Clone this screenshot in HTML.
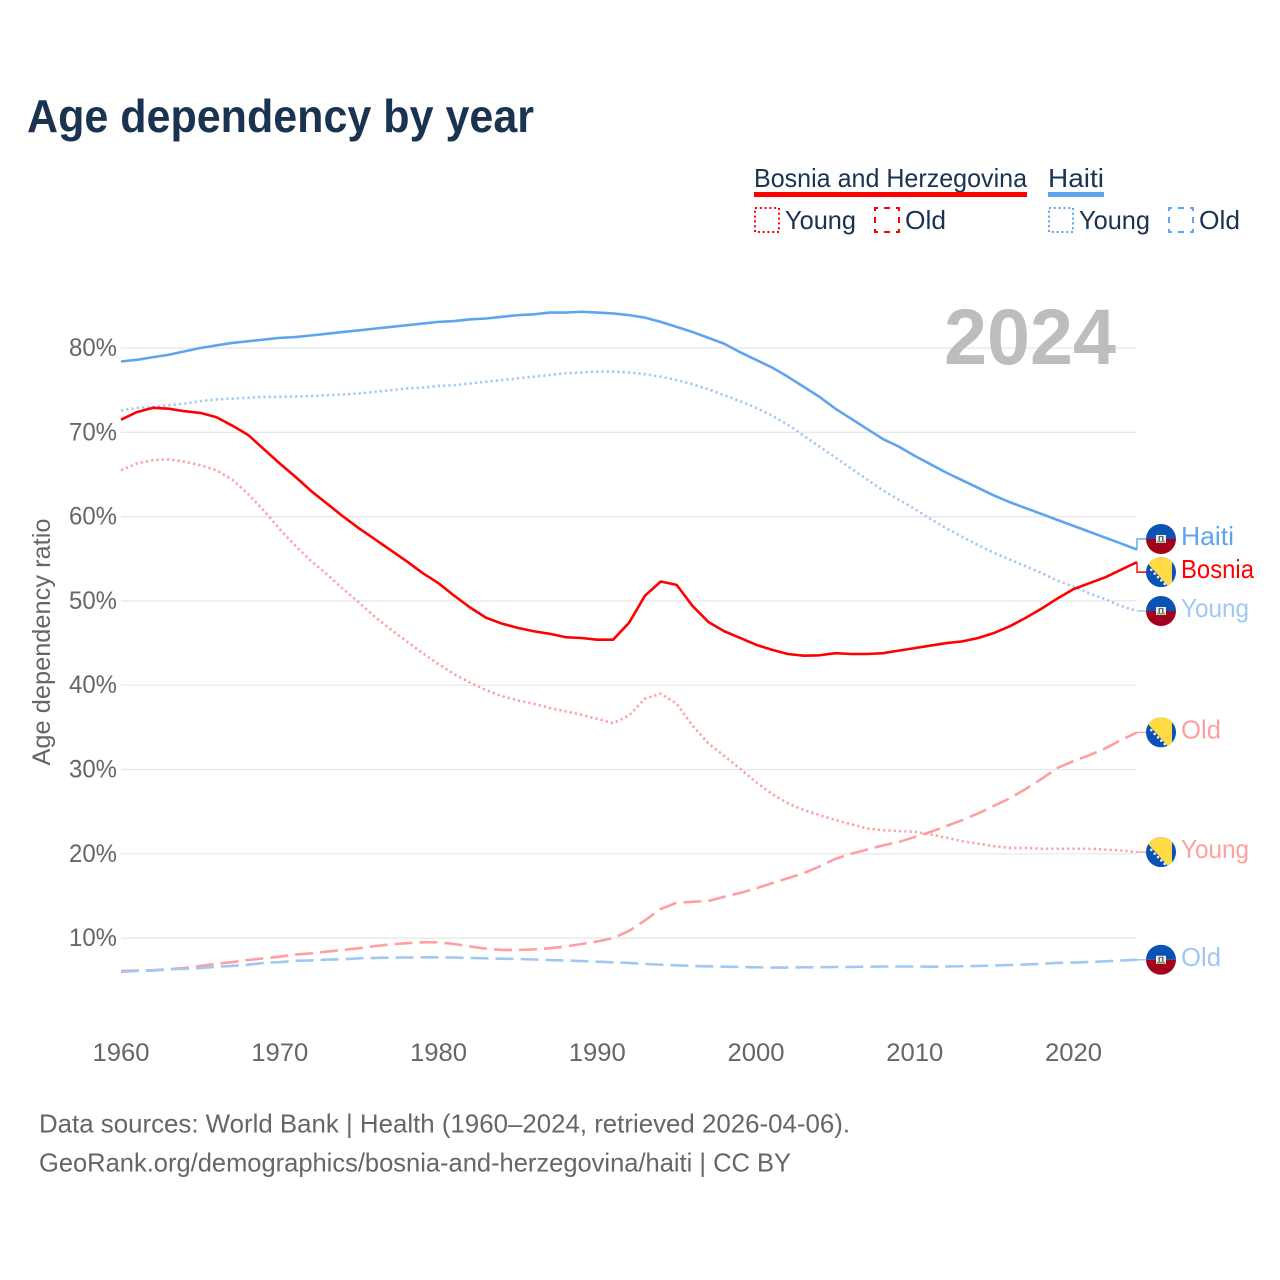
<!DOCTYPE html>
<html lang="en">
<head>
<meta charset="utf-8">
<title>Age dependency by year</title>
<style>
html,body{margin:0;padding:0;background:#fff;width:1280px;height:1280px;overflow:hidden}
svg{display:block}
text{font-family:"Liberation Sans",sans-serif}
</style>
</head>
<body>
<svg id="chart" xmlns="http://www.w3.org/2000/svg" width="1280" height="1280" viewBox="0 0 1280 1280">
<defs>
<clipPath id="flag-clip"><circle cx="0" cy="0" r="15"/></clipPath>
<g id="flag-haiti" clip-path="url(#flag-clip)">
<rect x="-15" y="-15" width="30" height="15" fill="#0a52b4"/>
<rect x="-15" y="0" width="30" height="15" fill="#a2001d"/>
<rect x="-5" y="-4" width="10" height="8" fill="#f0f0f0"/>
<rect x="-2.5" y="-3" width="5" height="5" fill="#5a6a70"/>
<rect x="-1" y="-2" width="2" height="4" fill="#f0f0f0"/>
<rect x="-4" y="2" width="8" height="1.4" fill="#6da544"/>
</g>
<g id="flag-bosnia" clip-path="url(#flag-clip)">
<rect x="-15" y="-15" width="30" height="30" fill="#0a52b4"/>
<polygon points="-14,-9.5 -9,-15 11,-15 11,18.5" fill="#ffda44"/>
<g fill="#f0f0f0">
<circle cx="-9.7" cy="-2.3" r="1.3"/>
<circle cx="-6.3" cy="1.5" r="1.3"/>
<circle cx="-3" cy="5" r="1.3"/>
<circle cx="0.3" cy="8.3" r="1.3"/>
<circle cx="3.7" cy="11.7" r="1.3"/>
</g>
</g>
</defs>

<rect x="0" y="0" width="1280" height="1280" fill="#fff"/>

<text x="27" y="132" font-size="46" font-weight="700" fill="#1a3350" textLength="507" lengthAdjust="spacingAndGlyphs">Age dependency by year</text>

<g>
<text x="754" y="187" font-size="26" fill="#1a3350" textLength="273" lengthAdjust="spacingAndGlyphs">Bosnia and Herzegovina</text>
<rect x="754" y="192" width="273" height="5" fill="#ff0000"/>
<text x="1048" y="187" font-size="26" fill="#1a3350" textLength="56" lengthAdjust="spacingAndGlyphs">Haiti</text>
<rect x="1048" y="192" width="56" height="5" fill="#5fa5ee"/>

<rect x="755" y="208" width="24" height="24" fill="none" stroke="#ff0000" stroke-width="2" stroke-dasharray="2 2.8"/>
<text x="785" y="229" font-size="26" fill="#1a3350" textLength="71" lengthAdjust="spacingAndGlyphs">Young</text>
<rect x="875" y="208" width="24" height="24" fill="none" stroke="#ff0000" stroke-width="2" stroke-dasharray="6 6" stroke-dashoffset="3"/>
<text x="905" y="229" font-size="26" fill="#1a3350" textLength="41" lengthAdjust="spacingAndGlyphs">Old</text>

<rect x="1049" y="208" width="24" height="24" fill="none" stroke="#5fa5ee" stroke-width="2" stroke-dasharray="2 2.8"/>
<text x="1079" y="229" font-size="26" fill="#1a3350" textLength="71" lengthAdjust="spacingAndGlyphs">Young</text>
<rect x="1169" y="208" width="24" height="24" fill="none" stroke="#5fa5ee" stroke-width="2" stroke-dasharray="6 6" stroke-dashoffset="3"/>
<text x="1199" y="229" font-size="26" fill="#1a3350" textLength="41" lengthAdjust="spacingAndGlyphs">Old</text>
</g>

<g id="grid"></g>
<text x="944" y="364" font-size="79" font-weight="700" fill="#bdbdbd" textLength="172" lengthAdjust="spacingAndGlyphs">2024</text>
<g id="yticks"></g>
<g id="xticks"></g>
<text transform="translate(50,642) rotate(-90)" text-anchor="middle" font-size="25" fill="#666666" textLength="247" lengthAdjust="spacingAndGlyphs">Age dependency ratio</text>
<g id="series"></g>
<g id="labels"></g>

<text x="39" y="1132.5" font-size="26" fill="#666666" textLength="811" lengthAdjust="spacingAndGlyphs">Data sources: World Bank | Health (1960–2024, retrieved 2026-04-06).</text>
<text x="39" y="1171.5" font-size="26" fill="#666666" textLength="752" lengthAdjust="spacingAndGlyphs">GeoRank.org/demographics/bosnia-and-herzegovina/haiti | CC BY</text>
</svg>

<script>
const years = [1960,1961,1962,1963,1964,1965,1966,1967,1968,1969,1970,1971,1972,1973,1974,1975,1976,1977,1978,1979,1980,1981,1982,1983,1984,1985,1986,1987,1988,1989,1990,1991,1992,1993,1994,1995,1996,1997,1998,1999,2000,2001,2002,2003,2004,2005,2006,2007,2008,2009,2010,2011,2012,2013,2014,2015,2016,2017,2018,2019,2020,2021,2022,2023,2024];
const xTickLabels = [1960,1970,1980,1990,2000,2010,2020];
const yTickLabels = [10,20,30,40,50,60,70,80];

const bosniaTotal = [71.5,72.4,72.9,72.8,72.5,72.3,71.8,70.8,69.7,68.0,66.3,64.7,63.0,61.5,60.0,58.6,57.3,56.0,54.7,53.3,52.1,50.6,49.2,48.0,47.3,46.8,46.4,46.1,45.7,45.6,45.4,45.4,47.4,50.6,52.3,51.9,49.4,47.5,46.4,45.6,44.8,44.2,43.7,43.5,43.55,43.8,43.7,43.7,43.8,44.1,44.4,44.7,45.0,45.2,45.6,46.2,47.0,48.0,49.1,50.3,51.4,52.1,52.8,53.7,54.6];
const haitiTotal = [78.4,78.6,78.9,79.2,79.6,80.0,80.3,80.6,80.8,81.0,81.2,81.3,81.5,81.7,81.9,82.1,82.3,82.5,82.7,82.9,83.1,83.2,83.4,83.5,83.7,83.9,84.0,84.2,84.2,84.3,84.2,84.1,83.9,83.6,83.1,82.5,81.9,81.2,80.5,79.5,78.6,77.7,76.6,75.4,74.2,72.8,71.6,70.4,69.2,68.3,67.2,66.2,65.2,64.3,63.4,62.5,61.7,61.0,60.3,59.6,58.9,58.2,57.5,56.8,56.1];
const haitiYoung = [72.6,72.9,73.0,73.2,73.4,73.7,73.9,74.0,74.1,74.2,74.2,74.25,74.3,74.4,74.5,74.6,74.8,75.0,75.2,75.3,75.5,75.6,75.8,76.0,76.2,76.4,76.6,76.8,77.0,77.1,77.2,77.2,77.1,76.9,76.6,76.2,75.7,75.1,74.4,73.7,72.9,72.0,70.9,69.6,68.3,67.0,65.7,64.4,63.1,62.0,60.9,59.7,58.6,57.6,56.6,55.7,54.9,54.1,53.3,52.4,51.7,50.9,50.2,49.4,48.8];
const bosniaYoung = [65.5,66.3,66.7,66.8,66.5,66.1,65.5,64.4,62.7,60.7,58.5,56.5,54.7,53.1,51.4,49.8,48.1,46.6,45.2,43.8,42.5,41.3,40.3,39.4,38.7,38.2,37.8,37.3,36.9,36.5,36.0,35.5,36.4,38.4,39.0,37.8,35.2,33.1,31.6,30.1,28.5,27.1,26.0,25.2,24.6,24.0,23.5,23.0,22.8,22.7,22.6,22.3,21.9,21.5,21.2,20.9,20.7,20.7,20.6,20.6,20.6,20.6,20.5,20.4,20.2];
const bosniaOld = [6.1,6.15,6.2,6.3,6.45,6.7,6.95,7.15,7.4,7.6,7.8,8.05,8.2,8.4,8.6,8.8,9.05,9.25,9.4,9.5,9.5,9.3,9.0,8.75,8.6,8.6,8.65,8.8,9.0,9.3,9.6,10.0,10.85,12.1,13.45,14.2,14.3,14.4,14.9,15.35,15.9,16.5,17.1,17.7,18.5,19.4,20.0,20.5,21.0,21.4,22.0,22.6,23.3,24.0,24.8,25.7,26.6,27.7,28.9,30.2,31.0,31.7,32.5,33.5,34.4];
const haitiOld = [6.0,6.1,6.15,6.3,6.35,6.45,6.6,6.7,6.85,7.05,7.15,7.3,7.35,7.45,7.5,7.6,7.65,7.68,7.7,7.72,7.72,7.7,7.64,7.6,7.56,7.52,7.46,7.4,7.34,7.28,7.2,7.13,7.05,6.93,6.84,6.77,6.69,6.65,6.61,6.57,6.54,6.51,6.51,6.54,6.55,6.57,6.57,6.61,6.63,6.63,6.63,6.61,6.63,6.66,6.69,6.75,6.81,6.87,6.96,7.05,7.1,7.16,7.25,7.34,7.43];

const SVGNS = 'http://www.w3.org/2000/svg';
function xScale(year){ return 121 + (year - 1960) * 15.875; }
function yScale(v){ return 1022.4 - v * 8.43; }
function make(tag, attrs, parent){
  const el = document.createElementNS(SVGNS, tag);
  for (const k in attrs) el.setAttribute(k, attrs[k]);
  parent.appendChild(el);
  return el;
}

const gridGroup = document.getElementById('grid');
const yGroup = document.getElementById('yticks');
yTickLabels.forEach(function(t){
  const line = make('line', {x1:121, x2:1136, y1:yScale(t), y2:yScale(t), stroke:'#e6e6e6', 'stroke-width':1.2}, gridGroup);
  
  
  const label = make('text', {x:117, y:yScale(t)+8, 'text-anchor':'end', 'font-size':25, fill:'#666666', textLength:48, lengthAdjust:'spacingAndGlyphs'}, yGroup);
  
  
  label.textContent = t + '%';
});

const xGroup = document.getElementById('xticks');
xTickLabels.forEach(function(t){
  const label = make('text', {x:xScale(t), y:1061, 'text-anchor':'middle', 'font-size':25, fill:'#666666', textLength:57, lengthAdjust:'spacingAndGlyphs'}, xGroup);
  
  
  label.textContent = t;
});

const PALE_RED = '#ff9f9f';
const PALE_BLUE = '#a0c8f3';
const SOLID_RED = '#ff0000';
const SOLID_BLUE = '#5fa5ee';
const DOTS = '2.2 3.1';
const DASHES = '18 7';

const seriesGroup = document.getElementById('series');
function drawLine(name, values, color, dash){
  const d = values.map(function(v, i){
    return (i ? 'L' : 'M') + xScale(years[i]).toFixed(2) + ' ' + yScale(v).toFixed(2);
  }).join(' ');
  const path = make('path', {d:d, fill:'none', stroke:color, 'stroke-width':2.6, 'stroke-linejoin':'round'}, seriesGroup);
  if (dash) path.setAttribute('stroke-dasharray', dash);
  
  
}
drawLine('line-bosnia-young', bosniaYoung, PALE_RED, DOTS);
drawLine('line-bosnia-old', bosniaOld, PALE_RED, DASHES);
drawLine('line-haiti-young', haitiYoung, PALE_BLUE, DOTS);
drawLine('line-haiti-old', haitiOld, PALE_BLUE, DASHES);
drawLine('line-haiti-total', haitiTotal, SOLID_BLUE, null);
drawLine('line-bosnia-total', bosniaTotal, SOLID_RED, null);

const labelGroup = document.getElementById('labels');
function drawEndLabel(name, text, values, flag, color, shift, width){
  const last = values[values.length - 1];
  const yEnd = yScale(last);
  const yFlag = yEnd + shift;
  const x0 = xScale(years[years.length - 1]);
  const conn = make('path', {d:'M' + x0 + ' ' + yEnd + ' L' + x0 + ' ' + yFlag + ' L1146 ' + yFlag, fill:'none', stroke:color, 'stroke-width':1.4}, labelGroup);
  
  
  const use = make('use', {href:'#' + flag, x:1161, y:yFlag}, labelGroup);
  
  
  const label = make('text', {x:1181, y:yFlag + 6, 'font-size':26, fill:color, textLength:width, lengthAdjust:'spacingAndGlyphs'}, labelGroup);
  
  
  label.textContent = text;
}
drawEndLabel('end-haiti-total', 'Haiti', haitiTotal, 'flag-haiti', SOLID_BLUE, -10.5, 53);
drawEndLabel('end-bosnia-total', 'Bosnia', bosniaTotal, 'flag-bosnia', SOLID_RED, 10, 73);
drawEndLabel('end-haiti-young', 'Young', haitiYoung, 'flag-haiti', PALE_BLUE, 0, 68);
drawEndLabel('end-bosnia-old', 'Old', bosniaOld, 'flag-bosnia', PALE_RED, 0, 40);
drawEndLabel('end-bosnia-young', 'Young', bosniaYoung, 'flag-bosnia', PALE_RED, 0, 68);
drawEndLabel('end-haiti-old', 'Old', haitiOld, 'flag-haiti', PALE_BLUE, 0, 40);
</script>
</body>
</html>
